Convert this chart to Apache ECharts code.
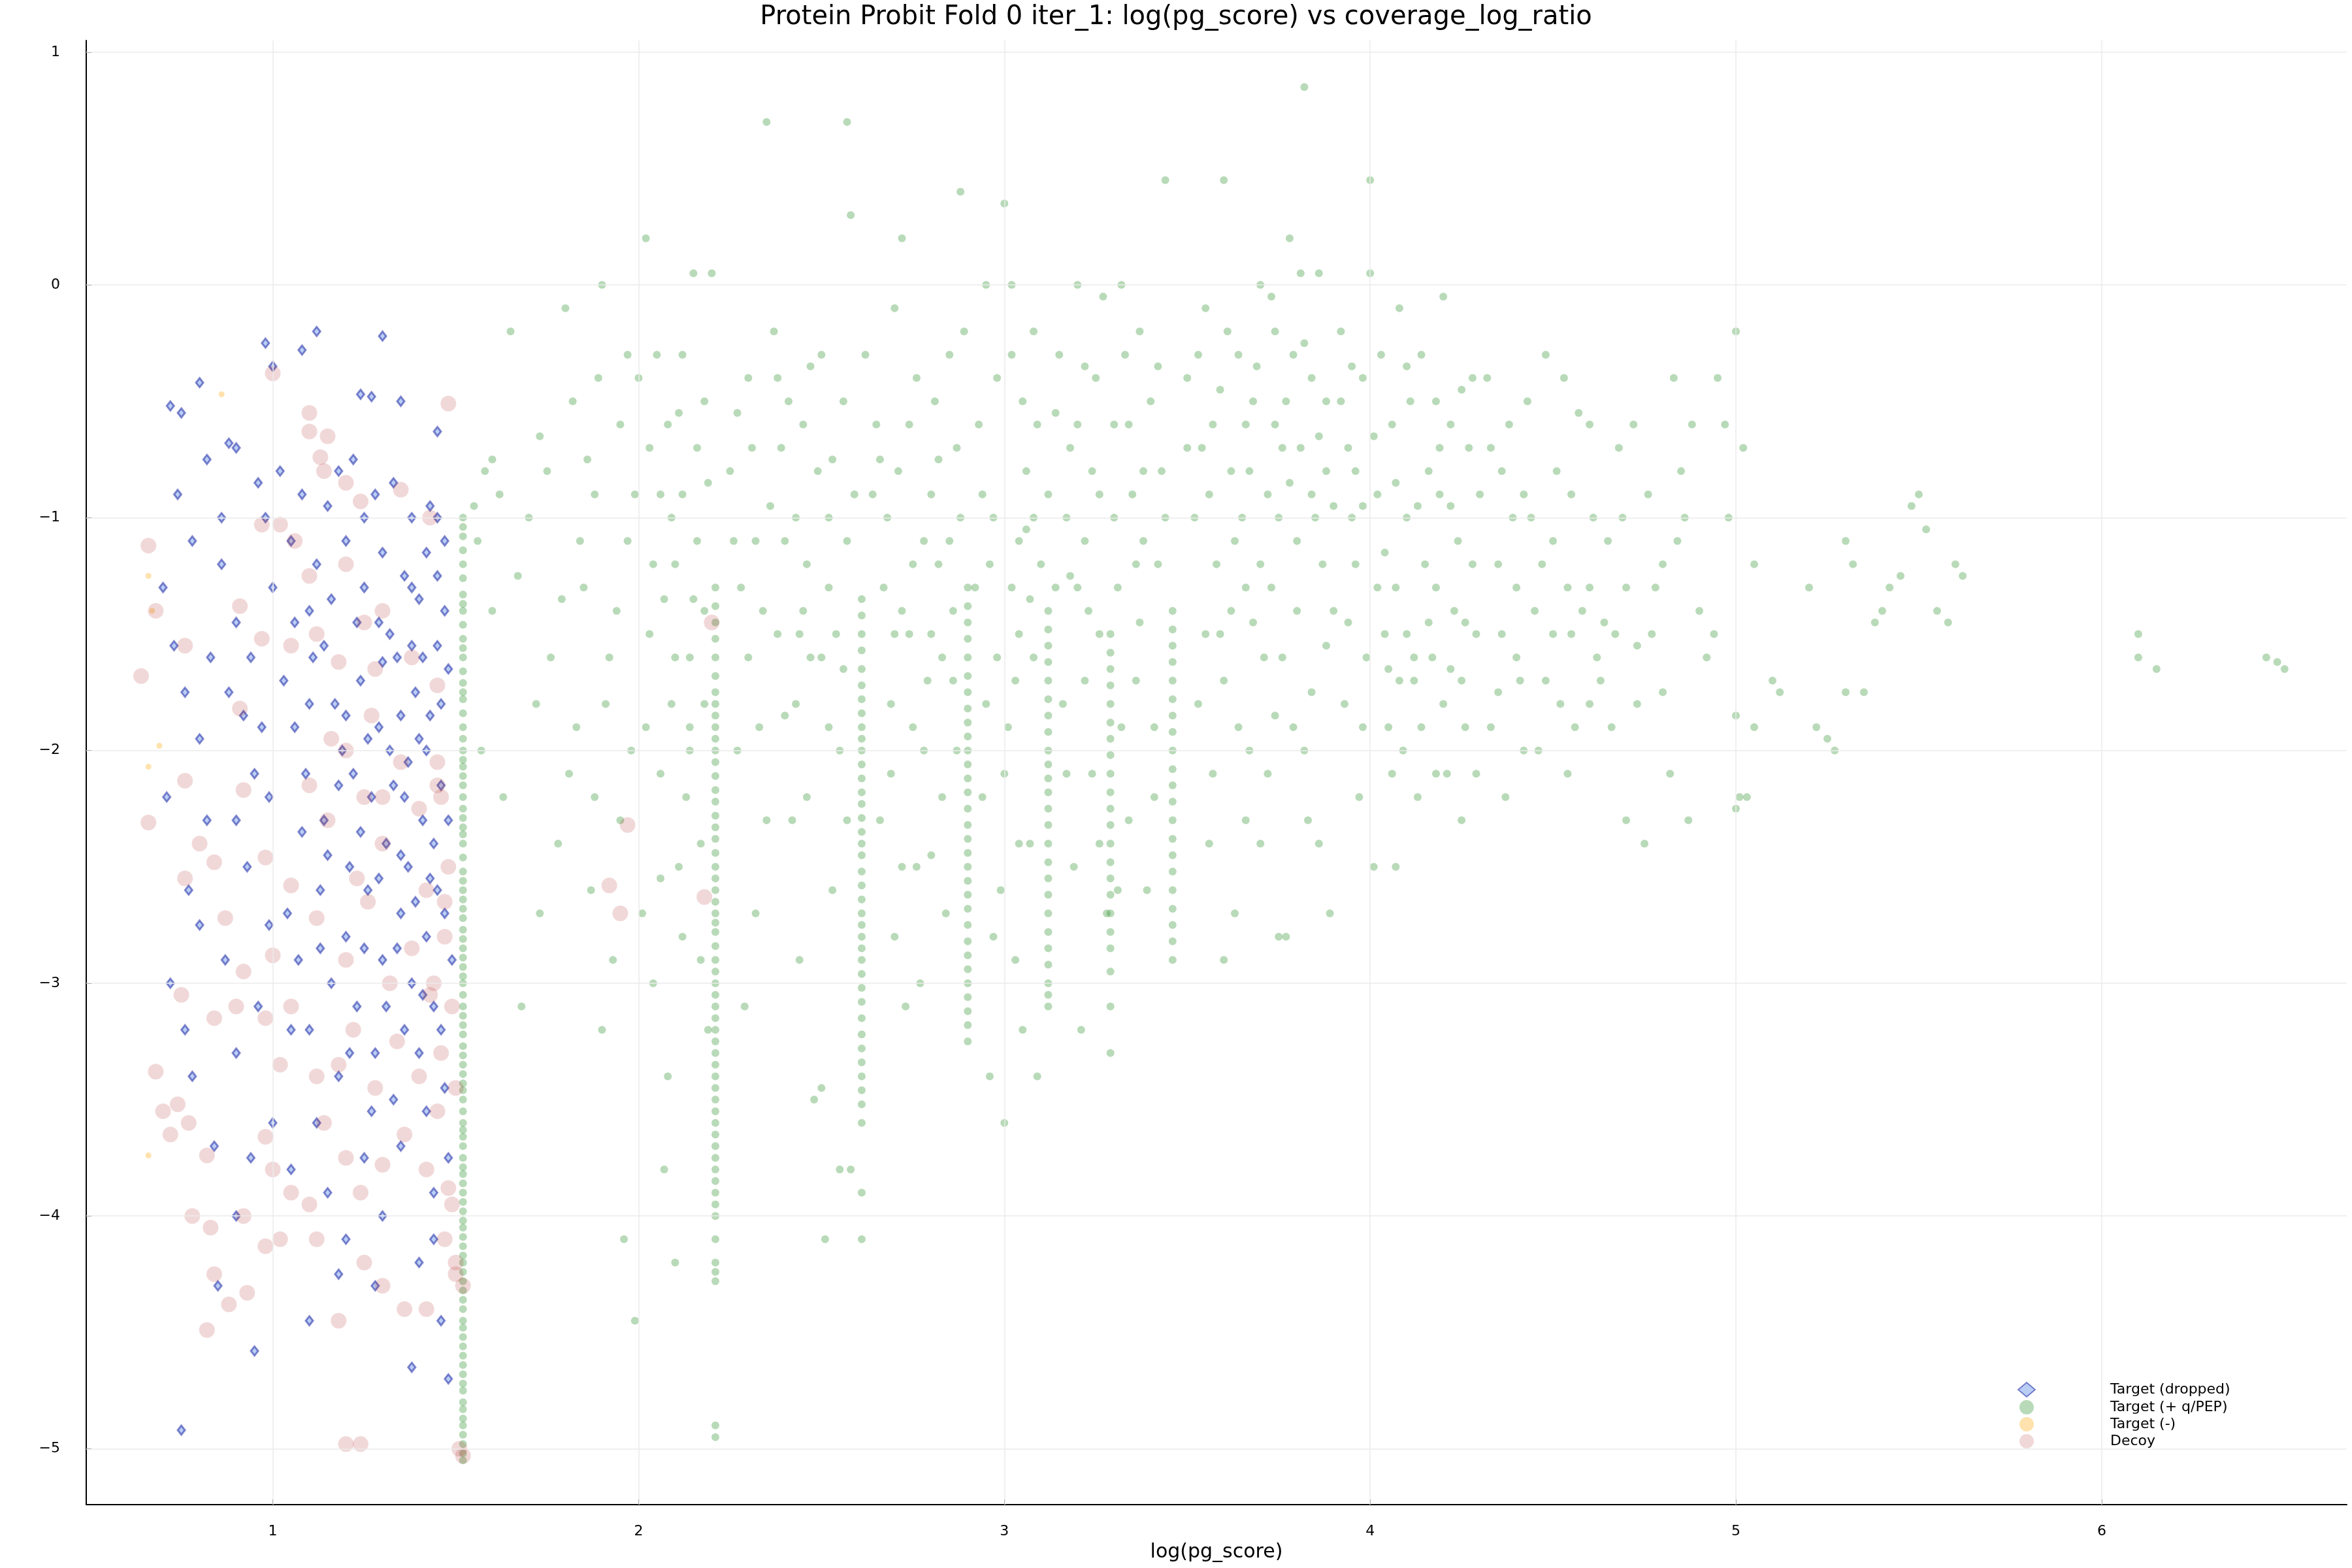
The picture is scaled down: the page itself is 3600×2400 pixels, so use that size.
<!DOCTYPE html>
<html><head><meta charset="utf-8">
<script src="https://cdn.jsdelivr.net/npm/echarts@6/dist/echarts.min.js"></script>
<style>html,body{margin:0;padding:0;background:#fff}#c{width:3600px;height:2400px}</style>
</head><body><div id="c"></div>
<script>
const title = "Protein Probit Fold 0 iter_1: log(pg_score) vs coverage_log_ratio";
const xName = "log(pg_score)";
const seriesNames = ["Target (dropped)", "Target (+ q/PEP)", "Target (-)", "Decoy"];

// green scattered cloud
const greenCloud = [
[1.65,-0.2],[1.7,-1.0],[1.75,-0.8],[1.8,-0.1],[1.82,-0.5],[1.85,-1.3],[1.88,-0.9],[1.9,0.0],[1.92,-1.6],[1.95,-0.6],[1.97,-1.1],[1.98,-2.0],[1.6,-1.4],[1.63,-2.2],[1.68,-3.1],[1.72,-1.8],[1.78,-2.4],[1.83,-1.9],[1.87,-2.6],[1.9,-3.2],[1.93,-2.9],[1.96,-4.1],[1.99,-4.45],[1.84,-1.1],[1.76,-1.6],[1.94,-1.4],[1.99,-0.9],[1.89,-0.4],[1.81,-2.1],[1.58,-0.8],[1.62,-0.9],[1.56,-1.1],[1.57,-2.0],[1.55,-0.95],
[2.02,0.2],[2.05,-0.3],[2.08,-0.6],[2.1,-1.2],[2.12,-0.9],[2.15,0.05],[2.18,-0.5],[2.2,0.05],[2.03,-1.5],[2.06,-2.1],[2.09,-1.8],[2.11,-2.5],[2.14,-1.6],[2.17,-2.9],[2.19,-3.2],[2.04,-3.0],[2.07,-3.8],[2.1,-4.2],[2.13,-2.2],[2.16,-1.1],[2.01,-2.7],[2.08,-3.4],[2.12,-0.3],[2.18,-1.4],[2.06,-0.9],[2.14,-2.0],[2.04,-1.2],[2.16,-0.7],[2.0,-0.4],[2.1,-1.6],
[2.25,-0.8],[2.28,-1.3],[2.3,-0.4],[2.33,-1.9],[2.35,0.7],[2.37,-0.2],[2.4,-1.1],[2.42,-2.3],[2.45,-0.6],[2.47,-1.6],[2.5,-0.3],[2.52,-1.0],[2.55,-2.0],[2.57,0.7],[2.58,0.3],[2.56,-0.5],[2.53,-2.6],[2.48,-3.5],[2.5,-3.45],[2.44,-2.9],[2.38,-1.5],[2.32,-2.7],[2.27,-2.0],[2.29,-3.1],[2.46,-1.2],[2.54,-1.5],[2.59,-0.9],[2.41,-0.5],[2.36,-0.95],[2.51,-4.1],[2.55,-3.8],[2.43,-1.8],[2.34,-1.4],[2.49,-0.8],[2.31,-0.7],[2.26,-1.1],[2.39,-0.7],[2.45,-1.4],[2.52,-1.3],[2.58,-3.8],
[2.65,-0.6],[2.68,-1.0],[2.7,-0.1],[2.72,0.2],[2.74,-1.5],[2.76,-0.4],[2.78,-2.0],[2.8,-0.9],[2.82,-1.2],[2.85,-0.3],[2.87,-0.7],[2.88,0.4],[2.66,-2.3],[2.7,-2.8],[2.73,-3.1],[2.76,-2.5],[2.79,-1.7],[2.83,-2.2],[2.86,-1.4],[2.69,-1.8],[2.75,-1.2],[2.81,-0.5],[2.84,-2.7],[2.67,-1.3],[2.71,-0.8],[2.77,-3.0],[2.62,-0.3],[2.64,-0.9],[2.89,-0.2],[2.72,-1.4],[2.8,-1.5],[2.85,-1.1],
[2.93,-0.6],[2.95,0.0],[2.97,-1.0],[3.0,0.35],[3.02,-0.3],[3.04,-1.5],[3.06,-0.8],[3.08,-0.2],[2.94,-2.2],[2.96,-3.4],[2.99,-2.6],[3.01,-1.9],[3.03,-2.9],[3.05,-3.2],[3.07,-2.4],[3.09,-3.4],[3.1,-1.2],[2.98,-1.6],[3.05,-0.5],[2.92,-1.3],[3.0,-3.6],[3.02,0.0],[3.08,-1.0],[2.96,-1.2],[3.04,-1.1],
[3.15,-0.3],[3.18,-0.7],[3.2,0.0],[3.22,-1.1],[3.25,-0.4],[3.27,-0.05],[3.3,-0.6],[3.32,0.0],[3.35,-0.9],[3.37,-0.2],[3.4,-0.5],[3.42,-1.2],[3.44,0.45],[3.16,-1.8],[3.19,-2.5],[3.21,-3.2],[3.24,-2.1],[3.26,-1.5],[3.28,-2.7],[3.31,-1.3],[3.34,-2.3],[3.36,-1.7],[3.39,-2.6],[3.41,-1.9],[3.43,-0.8],[3.17,-1.0],[3.23,-1.4],[3.33,-0.3],[3.38,-1.1],[3.29,-3.3],[3.2,-0.6],[3.12,-0.9],[3.14,-1.3],[3.24,-0.8],[3.36,-1.2],
[3.5,-0.4],[3.52,-1.0],[3.55,-0.1],[3.57,-0.6],[3.6,0.45],[3.62,-0.8],[3.64,-0.3],[3.66,-1.3],[3.68,-0.5],[3.7,0.0],[3.72,-0.9],[3.74,-0.2],[3.76,-0.7],[3.78,0.2],[3.8,-1.1],[3.82,0.85],[3.84,-0.4],[3.86,0.05],[3.88,-0.8],[3.9,-1.4],[3.53,-1.8],[3.56,-2.4],[3.59,-1.5],[3.63,-2.7],[3.67,-2.0],[3.71,-1.6],[3.75,-2.8],[3.79,-1.9],[3.83,-2.3],[3.87,-1.2],[3.89,-2.7],[3.58,-1.2],[3.61,-0.2],[3.65,-1.0],[3.69,-0.35],[3.73,-1.3],[3.77,-0.5],[3.81,-0.7],[3.85,-1.0],[3.54,-0.7],[3.6,-2.9],[3.7,-2.4],[3.77,-2.8],[3.86,-2.4],[3.73,-0.05],[3.81,0.05],[3.66,-0.6],[3.75,-1.0],[3.84,-0.9],[3.62,-1.4],[3.79,-0.3],[3.88,-0.5],
[3.92,-0.2],[3.94,-0.7],[3.96,-1.2],[3.98,-0.4],[4.0,0.05],[4.0,0.45],[4.02,-0.9],[4.04,-1.5],[4.06,-0.6],[4.08,-0.1],[4.1,-1.0],[4.12,-1.7],[4.14,-0.3],[4.16,-0.8],[4.18,-1.3],[4.2,-0.05],[4.22,-0.6],[4.24,-1.1],[4.26,-1.9],[4.28,-0.4],[4.3,-0.9],[3.93,-1.8],[3.97,-2.2],[4.01,-2.5],[4.05,-1.9],[4.09,-2.0],[4.13,-2.2],[4.17,-1.6],[4.21,-2.1],[4.25,-2.3],[4.29,-1.5],[3.95,-1.0],[4.03,-0.3],[4.07,-1.3],[4.11,-0.5],[4.15,-1.2],[4.19,-0.9],[4.23,-1.4],[4.27,-0.7],[3.99,-1.6],[4.07,-2.5],[4.12,-1.6],[4.2,-1.8],[4.25,-1.7],[4.05,-1.65],[4.08,-1.7],[3.96,-0.8],[4.18,-0.5],
[4.32,-0.4],[4.35,-1.2],[4.38,-0.6],[4.4,-1.6],[4.42,-0.9],[4.45,-1.4],[4.48,-0.3],[4.5,-1.1],[4.52,-1.8],[4.55,-0.9],[4.58,-1.4],[4.6,-0.6],[4.62,-1.6],[4.65,-1.1],[4.68,-0.7],[4.7,-1.3],[4.73,-1.8],[4.76,-0.9],[4.8,-1.2],[4.83,-0.4],[4.86,-1.0],[4.9,-1.4],[4.33,-1.9],[4.37,-2.2],[4.41,-1.7],[4.46,-2.0],[4.5,-1.5],[4.56,-1.9],[4.63,-1.7],[4.7,-2.3],[4.75,-2.4],[4.82,-2.1],[4.87,-2.3],[4.36,-0.8],[4.44,-1.0],[4.53,-0.4],[4.6,-1.3],[4.67,-1.5],[4.77,-1.5],[4.85,-0.8],[4.88,-0.6],[4.4,-1.3],[4.55,-1.5],
[4.95,-0.4],[4.98,-1.0],[5.0,-0.2],[5.02,-0.7],[5.05,-1.2],[5.0,-1.85],[5.01,-2.2],[5.03,-2.2],[5.1,-1.7],[5.12,-1.75],[5.05,-1.9],[5.2,-1.3],[5.22,-1.9],[5.25,-1.95],[5.27,-2.0],[5.3,-1.1],[5.32,-1.2],[5.3,-1.75],[5.4,-1.4],[5.42,-1.3],[5.45,-1.25],[5.48,-0.95],[5.5,-0.9],[5.52,-1.05],[5.55,-1.4],[5.6,-1.2],[5.62,-1.25],[5.58,-1.45],[5.38,-1.45],[5.35,-1.75],[4.94,-1.5],[4.92,-1.6],[4.97,-0.6],[5.0,-2.25],
[6.1,-1.5],[6.1,-1.6],[6.15,-1.65],[6.45,-1.6],[6.48,-1.62],[6.5,-1.65],[2.21,-4.95],[2.21,-4.9]
];
// second batch of green cloud points read from denser areas
const greenCloud2 = [
[1.6,-0.75],[1.67,-1.25],[1.73,-0.65],[1.79,-1.35],[1.86,-0.75],[1.91,-1.8],[1.95,-2.3],[1.97,-0.3],[1.73,-2.7],[1.88,-2.2],
[2.03,-0.7],[2.07,-1.35],[2.11,-0.55],[2.15,-1.35],[2.19,-0.85],[2.02,-1.9],[2.06,-2.55],[2.12,-2.8],[2.17,-2.4],[2.09,-1.0],[2.14,-1.9],[2.18,-1.8],
[2.27,-0.55],[2.32,-1.1],[2.38,-0.4],[2.43,-1.0],[2.47,-0.35],[2.53,-0.75],[2.57,-1.1],[2.4,-1.85],[2.46,-2.2],[2.52,-1.9],[2.57,-2.3],[2.35,-2.3],[2.44,-1.5],[2.5,-1.6],[2.56,-1.65],[2.3,-1.6],
[2.66,-0.75],[2.7,-1.5],[2.74,-0.6],[2.78,-1.1],[2.82,-0.75],[2.86,-1.7],[2.88,-1.0],[2.69,-2.1],[2.75,-1.9],[2.83,-1.6],[2.87,-2.0],[2.72,-2.5],[2.8,-2.45],
[2.94,-0.9],[2.98,-0.4],[3.02,-1.3],[3.06,-1.05],[3.09,-0.6],[2.95,-1.8],[3.0,-2.1],[3.04,-2.4],[3.08,-1.6],[2.97,-2.8],[3.03,-1.7],[3.07,-1.35],
[3.14,-0.55],[3.18,-1.25],[3.22,-0.35],[3.26,-0.9],[3.3,-1.0],[3.34,-0.6],[3.38,-0.8],[3.42,-0.35],[3.17,-2.1],[3.22,-1.7],[3.26,-2.4],[3.32,-1.9],[3.37,-1.45],[3.41,-2.2],[3.44,-1.0],[3.2,-1.3],[3.31,-2.6],
[3.5,-0.7],[3.53,-0.3],[3.56,-0.9],[3.59,-0.45],[3.63,-1.1],[3.67,-0.8],[3.7,-1.2],[3.74,-0.6],[3.78,-0.85],[3.82,-0.25],[3.86,-0.65],[3.9,-0.95],[3.55,-1.5],[3.6,-1.7],[3.64,-1.9],[3.68,-1.45],[3.72,-2.1],[3.76,-1.6],[3.8,-1.4],[3.84,-1.75],[3.88,-1.55],[3.57,-2.1],[3.66,-2.3],[3.74,-1.85],[3.82,-2.0],
[3.92,-0.5],[3.95,-0.35],[3.98,-0.95],[4.01,-0.65],[4.04,-1.15],[4.07,-0.85],[4.1,-0.35],[4.13,-0.95],[4.16,-1.45],[4.19,-0.7],[4.22,-0.95],[4.25,-0.45],[4.28,-1.2],[3.94,-1.45],[3.98,-1.9],[4.02,-1.3],[4.06,-2.1],[4.1,-1.5],[4.14,-1.9],[4.18,-2.1],[4.22,-1.65],[4.26,-1.45],[4.29,-2.1],
[4.33,-0.7],[4.36,-1.5],[4.39,-1.0],[4.43,-0.5],[4.47,-1.2],[4.51,-0.8],[4.54,-1.3],[4.57,-0.55],[4.61,-1.0],[4.64,-1.45],[4.69,-1.0],[4.72,-0.6],[4.78,-1.3],[4.84,-1.1],[4.35,-1.75],[4.42,-2.0],[4.48,-1.7],[4.54,-2.1],[4.6,-1.8],[4.66,-1.9],[4.73,-1.55],[4.8,-1.75]
];
// dense vertical stripes of green points: x position and y values
const stripeX = [1.52, 2.21, 2.61, 2.9, 3.12, 3.29, 3.46];
const stripeY = [
 [-1.0,-1.04,-1.08,-1.14,-1.2,-1.26,-1.33,-1.37,-1.4,-1.46,-1.52,-1.56,-1.6,-1.66,-1.71,-1.75,-1.78,-1.84,-1.9,-1.95,-2.0,-2.04,-2.07,-2.11,-2.15,-2.2,-2.25,-2.29,-2.33,-2.36,-2.4,-2.46,-2.52,-2.56,-2.6,-2.64,-2.68,-2.72,-2.77,-2.81,-2.85,-2.89,-2.93,-2.97,-3.0,-3.05,-3.1,-3.14,-3.18,-3.22,-3.27,-3.31,-3.35,-3.39,-3.43,-3.46,-3.5,-3.55,-3.6,-3.63,-3.66,-3.7,-3.75,-3.79,-3.82,-3.86,-3.9,-3.94,-3.98,-4.02,-4.05,-4.09,-4.13,-4.17,-4.2,-4.24,-4.28,-4.32,-4.36,-4.4,-4.45,-4.48,-4.52,-4.56,-4.6,-4.64,-4.68,-4.72,-4.75,-4.8,-4.83,-4.87,-4.9,-4.94,-4.98,-5.02,-5.05],
 [-1.3,-1.38,-1.45,-1.52,-1.6,-1.68,-1.75,-1.8,-1.85,-1.9,-1.95,-2.0,-2.05,-2.11,-2.17,-2.22,-2.28,-2.33,-2.38,-2.44,-2.5,-2.55,-2.6,-2.65,-2.7,-2.74,-2.78,-2.84,-2.9,-2.95,-3.0,-3.05,-3.1,-3.15,-3.2,-3.25,-3.3,-3.35,-3.4,-3.45,-3.5,-3.55,-3.6,-3.65,-3.7,-3.75,-3.8,-3.85,-3.9,-3.95,-4.0,-4.1,-4.2,-4.24,-4.28],
 [-1.35,-1.42,-1.5,-1.57,-1.65,-1.72,-1.78,-1.84,-1.9,-1.95,-2.0,-2.06,-2.12,-2.18,-2.23,-2.29,-2.35,-2.4,-2.45,-2.52,-2.58,-2.64,-2.7,-2.75,-2.8,-2.85,-2.9,-2.96,-3.02,-3.08,-3.15,-3.22,-3.28,-3.34,-3.4,-3.46,-3.52,-3.6,-3.9,-4.1],
 [-1.3,-1.38,-1.45,-1.52,-1.6,-1.68,-1.75,-1.82,-1.88,-1.94,-2.0,-2.06,-2.12,-2.18,-2.25,-2.32,-2.38,-2.44,-2.5,-2.56,-2.62,-2.68,-2.75,-2.82,-2.88,-2.94,-3.0,-3.06,-3.12,-3.18,-3.25],
 [-1.4,-1.48,-1.55,-1.62,-1.7,-1.78,-1.85,-1.92,-2.0,-2.06,-2.12,-2.18,-2.25,-2.32,-2.4,-2.48,-2.55,-2.62,-2.7,-2.78,-2.85,-2.92,-3.0,-3.05,-3.1],
 [-1.5,-1.58,-1.65,-1.72,-1.8,-1.88,-1.95,-2.02,-2.1,-2.18,-2.25,-2.32,-2.4,-2.48,-2.55,-2.62,-2.7,-2.78,-2.85,-2.95,-3.1],
 [-1.4,-1.48,-1.55,-1.62,-1.7,-1.78,-1.85,-1.92,-2.0,-2.08,-2.15,-2.22,-2.3,-2.38,-2.45,-2.52,-2.6,-2.68,-2.75,-2.82,-2.9]
];
const dropped = [
[0.75,-4.92],[0.72,-0.52],[0.75,-0.55],[0.8,-0.42],[0.88,-0.68],[0.9,-0.7],[0.96,-0.85],[0.98,-0.25],[1.0,-0.35],[1.08,-0.28],[1.12,-0.2],[1.3,-0.22],[1.24,-0.47],[1.27,-0.48],[1.35,-0.5],[1.45,-0.63],
[0.74,-0.9],[0.78,-1.1],[0.7,-1.3],[0.73,-1.55],[0.76,-1.75],[0.8,-1.95],[0.83,-1.6],[0.86,-1.2],[0.9,-1.45],[0.92,-1.85],[0.95,-2.1],[0.98,-1.0],[1.0,-1.3],[0.71,-2.2],[0.77,-2.6],[0.82,-2.3],[0.87,-2.9],[0.9,-3.3],[0.93,-2.5],[0.96,-3.1],[0.99,-2.75],[0.72,-3.0],[0.78,-3.4],[0.84,-3.7],[0.9,-4.0],[0.95,-4.58],[0.85,-4.3],[1.0,-3.6],
[1.02,-0.8],[1.05,-1.1],[1.08,-0.9],[1.1,-1.4],[1.12,-1.2],[1.15,-0.95],[1.18,-0.8],[1.2,-1.1],[1.22,-0.75],[1.25,-1.3],[1.28,-0.9],[1.3,-1.15],[1.33,-0.85],[1.36,-1.25],[1.38,-1.0],[1.4,-1.35],[1.42,-1.15],[1.45,-1.0],[1.47,-1.4],
[1.03,-1.7],[1.06,-1.9],[1.09,-2.1],[1.11,-1.6],[1.14,-2.3],[1.17,-1.8],[1.19,-2.0],[1.21,-2.5],[1.24,-1.7],[1.27,-2.2],[1.29,-1.9],[1.31,-2.4],[1.34,-1.6],[1.37,-2.05],[1.39,-1.75],[1.41,-2.3],[1.43,-1.85],[1.46,-2.15],[1.48,-1.65],[1.32,-2.0],[1.36,-2.2],[1.4,-1.95],[1.44,-2.4],[1.26,-1.95],[1.22,-2.1],
[1.04,-2.7],[1.07,-2.9],[1.1,-3.2],[1.13,-2.6],[1.16,-3.0],[1.18,-3.4],[1.2,-2.8],[1.23,-3.1],[1.26,-2.6],[1.28,-3.3],[1.3,-2.9],[1.33,-3.5],[1.35,-2.7],[1.38,-3.0],[1.4,-3.3],[1.42,-2.8],[1.44,-3.1],[1.47,-3.45],[1.49,-2.9],[1.45,-2.6],[1.37,-2.5],
[1.05,-3.8],[1.1,-4.45],[1.15,-3.9],[1.2,-4.1],[1.25,-3.75],[1.3,-4.0],[1.35,-3.7],[1.4,-4.2],[1.44,-3.9],[1.46,-4.45],[1.48,-4.7],[1.38,-4.65],[1.28,-4.3],[1.18,-4.25],
[1.06,-1.45],[1.14,-1.55],[1.23,-1.45],[1.32,-1.5],[1.41,-1.6],[1.46,-1.8],[1.43,-2.55],[1.34,-2.85],[1.24,-2.35],[1.15,-2.45],[1.08,-2.35],[1.12,-3.6],[1.27,-3.55],[1.42,-3.55],[1.46,-3.2],
[1.3,-1.62],[1.35,-1.85],[1.38,-1.55],[1.42,-2.0],[1.45,-1.55],[1.48,-2.3],[1.33,-2.15],[1.29,-2.55],[1.39,-2.65],[1.47,-2.7],[1.41,-3.05],[1.36,-3.2],[1.31,-3.1],[1.25,-2.85],[1.21,-3.3],[1.45,-1.25],[1.38,-1.3],[1.43,-0.95],[1.25,-1.0],[1.16,-1.35],[1.1,-1.8],[1.18,-2.15],[1.13,-2.85],[1.05,-3.2],[1.48,-3.75],[1.44,-4.1],[1.47,-1.1],[1.35,-2.45],[1.29,-1.45],[1.2,-1.85],
[0.82,-0.75],[0.86,-1.0],[0.9,-2.3],[0.94,-1.6],[0.97,-1.9],[0.8,-2.75],[0.76,-3.2],[0.94,-3.75],[0.99,-2.2],[0.88,-1.75]
];
const targetMinus = [[0.66,-1.25],[0.67,-1.4],[0.69,-1.98],[0.66,-2.07],[0.66,-3.74],[0.86,-0.47]];
const decoy = [
[1.0,-0.38],[1.48,-0.51],[1.1,-0.55],[1.1,-0.63],[1.15,-0.65],[1.13,-0.74],[1.14,-0.8],[1.2,-0.85],[1.24,-0.93],[1.35,-0.88],[1.43,-1.0],[0.66,-1.12],[0.68,-1.4],[0.97,-1.03],[1.02,-1.03],[1.06,-1.1],[1.1,-1.25],[1.2,-1.2],
[0.64,-1.68],[0.76,-1.55],[0.91,-1.38],[0.97,-1.52],[1.05,-1.55],[1.12,-1.5],[1.18,-1.62],[1.25,-1.45],[1.28,-1.65],[1.3,-1.4],[1.38,-1.6],[1.45,-1.72],
[0.66,-2.31],[0.76,-2.13],[0.8,-2.4],[0.91,-1.82],[0.92,-2.17],[0.98,-2.46],[1.1,-2.15],[1.15,-2.3],[1.2,-2.0],[1.25,-2.2],[1.3,-2.4],[1.35,-2.05],[1.4,-2.25],[1.45,-2.15],[1.48,-2.5],[1.92,-2.58],[1.95,-2.7],[1.97,-2.32],
[0.76,-2.55],[0.84,-2.48],[0.87,-2.72],[0.92,-2.95],[1.0,-2.88],[1.05,-2.58],[1.12,-2.72],[1.2,-2.9],[1.26,-2.65],[1.32,-3.0],[1.38,-2.85],[1.43,-3.05],[1.47,-2.8],
[0.68,-3.38],[0.75,-3.05],[0.84,-3.15],[0.9,-3.1],[0.98,-3.15],[1.02,-3.35],[1.05,-3.1],[1.12,-3.4],[1.18,-3.35],[1.22,-3.2],[1.28,-3.45],[1.34,-3.25],[1.4,-3.4],[1.46,-3.3],[1.5,-3.45],
[0.7,-3.55],[0.72,-3.65],[0.74,-3.52],[0.77,-3.6],[0.82,-3.74],[0.98,-3.66],[1.0,-3.8],[1.05,-3.9],[1.1,-3.95],[1.14,-3.6],[1.2,-3.75],[1.24,-3.9],[1.3,-3.78],[1.36,-3.65],[1.42,-3.8],[1.48,-3.88],
[0.78,-4.0],[0.83,-4.05],[0.92,-4.0],[0.98,-4.13],[1.02,-4.1],[1.12,-4.1],[1.18,-4.45],[1.25,-4.2],[1.3,-4.3],[1.36,-4.4],[1.42,-4.4],[1.5,-4.25],[0.82,-4.49],[0.88,-4.38],[0.93,-4.33],[0.84,-4.25],
[1.2,-4.98],[1.24,-4.98],[1.51,-5.0],[1.52,-5.03],[1.5,-4.2],[1.52,-4.3],[2.18,-2.63],[2.2,-1.45],
[1.45,-2.05],[1.46,-2.2],[1.42,-2.6],[1.47,-2.65],[1.44,-3.0],[1.49,-3.1],[1.45,-3.55],[1.49,-3.95],[1.47,-4.1],[1.3,-2.2],[1.27,-1.85],[1.16,-1.95],[1.23,-2.55]
];

const greenData = greenCloud.concat(greenCloud2);
stripeX.forEach((x, i) => stripeY[i].forEach(y => greenData.push([x, y])));

const chart = echarts.init(document.getElementById('c'));
const font = 'DejaVu Sans';
chart.setOption({
  animation: false,
  backgroundColor: '#fff',
  title: { text: title, left: 'center', top: 2, textStyle: { fontFamily: font, fontWeight: 'normal', fontSize: 40, color: '#000' } },
  grid: { left: 132, right: 8, top: 62, bottom: 97 },
  xAxis: {
    type: 'value', min: 0.49, max: 6.67,
    name: xName, nameLocation: 'middle', nameGap: 58,
    nameTextStyle: { fontFamily: font, fontSize: 30, color: '#000' },
    axisLine: { onZero: false, lineStyle: { color: '#000', width: 2 } },
    axisTick: { inside: true, length: 8, lineStyle: { color: '#000' }, customValues: [1,2,3,4,5,6] },
    axisLabel: { fontFamily: font, fontSize: 22, color: '#000', margin: 30, customValues: [1,2,3,4,5,6] },
    splitLine: { show: false }
  },
  yAxis: {
    type: 'value', min: -5.24, max: 1.05,
    axisLine: { show: true, onZero: false, lineStyle: { color: '#000', width: 2 } },
    axisTick: { inside: true, length: 8, lineStyle: { color: '#000' }, customValues: [1,0,-1,-2,-3,-4,-5] },
    axisLabel: { fontFamily: font, fontSize: 22, color: '#000', margin: 40, customValues: [1,0,-1,-2,-3,-4,-5],
      formatter: v => (v < 0 ? '\u2212' + (-v) : String(v)) },
    splitLine: { show: false }
  },
  legend: {
    orient: 'vertical', left: 3068, top: 2105, itemGap: 4, itemWidth: 26, itemHeight: 22,
    backgroundColor: '#fff', padding: [10, 120, 10, 20],
    textStyle: { fontFamily: font, fontSize: 22, color: '#000', padding: [0, 0, 0, 110] },
    data: seriesNames
  },
  series: [
    { name: seriesNames[1], type: 'scatter', data: greenData, symbol: 'circle', symbolSize: 12, z: 2,
      itemStyle: { color: 'rgba(34,139,34,0.4)' },
      markLine: { silent: true, symbol: 'none', label: { show: false },
        lineStyle: { color: '#ebebeb', type: 'solid', width: 1.5 },
        data: [1,2,3,4,5,6].map(v => ({ xAxis: v })).concat([1,0,-1,-2,-3,-4,-5].map(v => ({ yAxis: v }))) } },
    { name: seriesNames[0], type: 'scatter', data: dropped, symbol: 'diamond', symbolSize: [11, 14], z: 3,
      itemStyle: { color: 'rgba(110,150,235,0.6)', borderColor: 'rgba(20,30,160,0.65)', borderWidth: 3 } },
    { name: seriesNames[2], type: 'scatter', data: targetMinus, symbol: 'circle', symbolSize: 9, z: 3,
      itemStyle: { color: 'rgba(255,165,0,0.4)' } },
    { name: seriesNames[3], type: 'scatter', data: decoy, symbol: 'circle', symbolSize: 24, z: 4,
      itemStyle: { color: 'rgba(178,34,34,0.22)' } }
  ]
});
</script></body></html>
